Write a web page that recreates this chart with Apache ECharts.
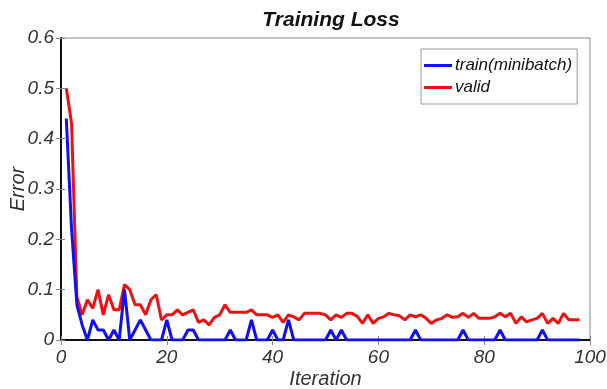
<!DOCTYPE html>
<html>
<head>
<meta charset="utf-8">
<script src="https://cdn.jsdelivr.net/npm/echarts@6/dist/echarts.min.js"></script>
<style>html,body{margin:0;padding:0;background:#fff}#c{width:607px;height:389px}</style>
</head>
<body>
<div id="c"></div>
<script>
var titleText = 'Training Loss';
var xName = 'Iteration';
var yName = 'Error';
var seriesNames = ['train(minibatch)', 'valid'];
var xTicks = [0, 20, 40, 60, 80, 100];
var yTicks = [0, 0.1, 0.2, 0.3, 0.4, 0.5, 0.6];

var trainLoss = [
  0.44, 0.22, 0.07, 0.03, 0.0, 0.04, 0.02, 0.02, 0.0, 0.02,
  0.0, 0.10, 0.0, 0.02, 0.04, 0.02, 0.0, 0.0, 0.0, 0.04,
  0.0, 0.0, 0.0, 0.02, 0.02, 0.0, 0.0, 0.0, 0.0, 0.0,
  0.0, 0.02, 0.0, 0.0, 0.0, 0.04, 0.0, 0.0, 0.0, 0.02,
  0.0, 0.0, 0.04, 0.0, 0.0, 0.0, 0.0, 0.0, 0.0, 0.0,
  0.02, 0.0, 0.02, 0.0, 0.0, 0.0, 0.0, 0.0, 0.0, 0.0,
  0.0, 0.0, 0.0, 0.0, 0.0, 0.0, 0.02, 0.0, 0.0, 0.0,
  0.0, 0.0, 0.0, 0.0, 0.0, 0.02, 0.0, 0.0, 0.0, 0.0,
  0.0, 0.0, 0.02, 0.0, 0.0, 0.0, 0.0, 0.0, 0.0, 0.0,
  0.02, 0.0, 0.0, 0.0, 0.0, 0.0, 0.0, 0.0
];
var validLoss = [
  0.50, 0.43, 0.086, 0.05, 0.08, 0.063, 0.10, 0.05, 0.09, 0.06,
  0.06, 0.11, 0.10, 0.07, 0.07, 0.05, 0.08, 0.09, 0.04, 0.05,
  0.05, 0.06, 0.05, 0.055, 0.06, 0.035, 0.04, 0.03, 0.045, 0.05,
  0.07, 0.055, 0.055, 0.055, 0.055, 0.06, 0.05, 0.05, 0.05, 0.045,
  0.05, 0.035, 0.05, 0.046, 0.04, 0.053, 0.053, 0.053, 0.053, 0.05,
  0.04, 0.05, 0.045, 0.053, 0.053, 0.047, 0.033, 0.05, 0.033, 0.043,
  0.046, 0.053, 0.05, 0.048, 0.04, 0.05, 0.046, 0.05, 0.043, 0.033,
  0.04, 0.043, 0.05, 0.045, 0.046, 0.053, 0.045, 0.053, 0.043, 0.043,
  0.043, 0.046, 0.053, 0.046, 0.053, 0.033, 0.046, 0.036, 0.04, 0.043,
  0.053, 0.033, 0.043, 0.033, 0.053, 0.04, 0.04, 0.04
];

function pairs(arr) { return arr.map(function (v, i) { return [i + 1, v]; }); }

var labelFont = { fontFamily: 'Liberation Sans', fontStyle: 'italic', fontSize: 19, color: '#333' };
var chart = echarts.init(document.getElementById('c'), null, { renderer: 'canvas' });
chart.setOption({
  animation: false,
  backgroundColor: '#fff',
  title: {
    text: titleText, left: 326, top: 5, textAlign: 'center',
    textStyle: { fontFamily: 'Liberation Sans', fontStyle: 'italic', fontWeight: 'bold', fontSize: 21, color: '#111' }
  },
  grid: { left: 61, right: 17, top: 38, bottom: 49, containLabel: false, outerBoundsMode: 'none',
    show: true, borderColor: '#888', borderWidth: 1, backgroundColor: '#fff' },
  legend: {
    orient: 'vertical', left: 421, top: 49,
    padding: [8, 5, 8, 3], itemGap: 5, itemWidth: 28, itemHeight: 3,
    borderColor: '#999', borderWidth: 1, backgroundColor: '#fff',
    icon: 'rect',
    textStyle: { fontFamily: 'Liberation Sans', fontStyle: 'italic', fontSize: 17, color: '#111', padding: [0, 0, 0, -2] },
    data: seriesNames
  },
  xAxis: [{
    type: 'value', min: xTicks[0], max: xTicks[xTicks.length - 1], interval: 20,
    name: xName, nameLocation: 'middle', nameGap: 29, nameMoveOverlap: false,
    nameTextStyle: { fontFamily: 'Liberation Sans', fontStyle: 'italic', fontSize: 20, color: '#333' },
    axisLine: { show: true, lineStyle: { color: '#111', width: 2 } },
    axisTick: { show: true, inside: true, length: 4, lineStyle: { color: '#888' } },
    axisLabel: Object.assign({ margin: 8 }, labelFont),
    splitLine: { show: false }
  }, {
    type: 'value', position: 'top', min: 0, max: 100, interval: 20,
    axisLine: { show: false },
    axisTick: { show: true, inside: true, length: 5, lineStyle: { color: '#888' } },
    axisLabel: { show: false }, splitLine: { show: false }
  }],
  yAxis: [{
    type: 'value', min: yTicks[0], max: yTicks[yTicks.length - 1], interval: 0.1,
    name: yName, nameLocation: 'middle', nameGap: 33, nameMoveOverlap: false,
    nameTextStyle: { fontFamily: 'Liberation Sans', fontStyle: 'italic', fontSize: 20, color: '#333' },
    axisLine: { show: true, lineStyle: { color: '#111', width: 2 } },
    axisTick: { show: true, inside: true, length: 4, lineStyle: { color: '#888' } },
    axisLabel: Object.assign({ margin: 7 }, labelFont),
    splitLine: { show: false }
  }, {
    type: 'value', position: 'right', min: 0, max: 0.6, interval: 0.1,
    axisLine: { show: false },
    axisTick: { show: true, inside: true, length: 5, lineStyle: { color: '#888' } },
    axisLabel: { show: false }, splitLine: { show: false }
  }],
  series: [{
    name: seriesNames[0], type: 'line', data: pairs(trainLoss), symbol: 'none',
    lineStyle: { color: '#1010f0', width: 3 }, itemStyle: { color: '#1010f0' }, z: 3
  }, {
    name: seriesNames[1], type: 'line', data: pairs(validLoss), symbol: 'none',
    lineStyle: { color: '#ee1111', width: 3 }, itemStyle: { color: '#ee1111' }, z: 2
  }]
});
</script>
</body>
</html>
